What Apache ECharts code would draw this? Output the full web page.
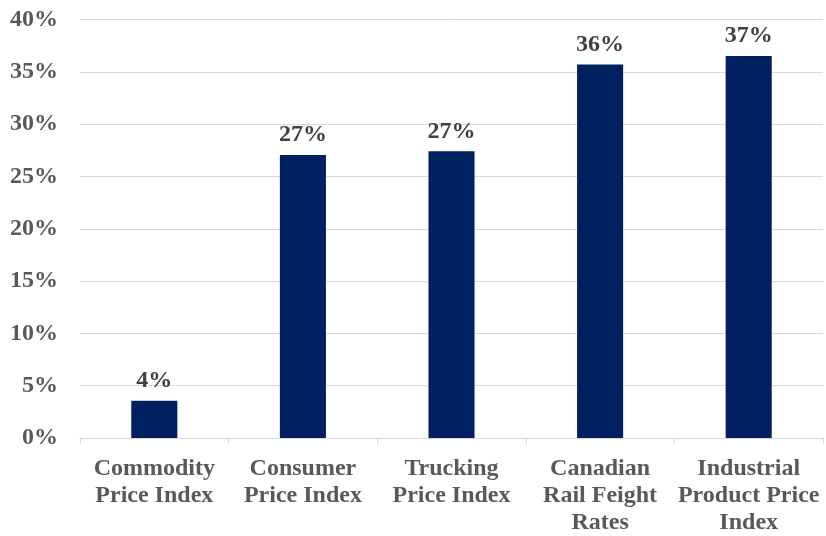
<!DOCTYPE html>
<html>
<head>
<meta charset="utf-8">
<script src="https://cdn.jsdelivr.net/npm/echarts@6/dist/echarts.min.js"></script>
<style>
  html, body { margin: 0; padding: 0; background: #fff; }
  #main { width: 826px; height: 536px; }
</style>
</head>
<body>
<div id="main"></div>
<script>
// data
var categories = ["Commodity\nPrice Index", "Consumer\nPrice Index", "Trucking\nPrice Index", "Canadian\nRail Feight\nRates", "Industrial\nProduct Price\nIndex"];
var values = [3.55, 27.05, 27.4, 35.7, 36.5];
var yTicks = [0, 5, 10, 15, 20, 25, 30, 35, 40];

var chart = echarts.init(document.getElementById("main"));
var serif = "'Liberation Serif', 'Times New Roman', serif";

var option = {
    animation: false,
    grid: { left: 80, right: 3, top: 19.5, bottom: 98, containLabel: false },
    xAxis: {
        type: "category",
        data: categories,
        axisLine: { lineStyle: { color: "#d9d9d9", width: 1 } },
        axisTick: { show: true, length: 6, lineStyle: { color: "#d9d9d9" } },
        axisLabel: {
            interval: 0, margin: 17, lineHeight: 27,
            color: "#595959", fontFamily: serif, fontWeight: "bold", fontSize: 24
        }
    },
    yAxis: {
        type: "value",
        min: yTicks[0], max: yTicks[yTicks.length - 1], interval: 5,
        axisLine: { show: false },
        axisTick: { show: false },
        splitLine: { lineStyle: { color: "#d9d9d9", width: 1 } },
        axisLabel: {
            margin: 22, color: "#595959", fontFamily: serif, fontWeight: "bold", fontSize: 24,
            formatter: function (v) { return v + "%"; }
        }
    },
    series: [{
        type: "bar",
        data: values,
        barWidth: "31%",
        itemStyle: { color: "#002060" },
        label: {
            show: true, position: "top", distance: 8,
            color: "#404040", fontFamily: serif, fontWeight: "bold", fontSize: 24,
            formatter: function (p) { return Math.round(p.value) + "%"; }
        }
    }]
};
chart.setOption(option);
</script>
</body>
</html>
